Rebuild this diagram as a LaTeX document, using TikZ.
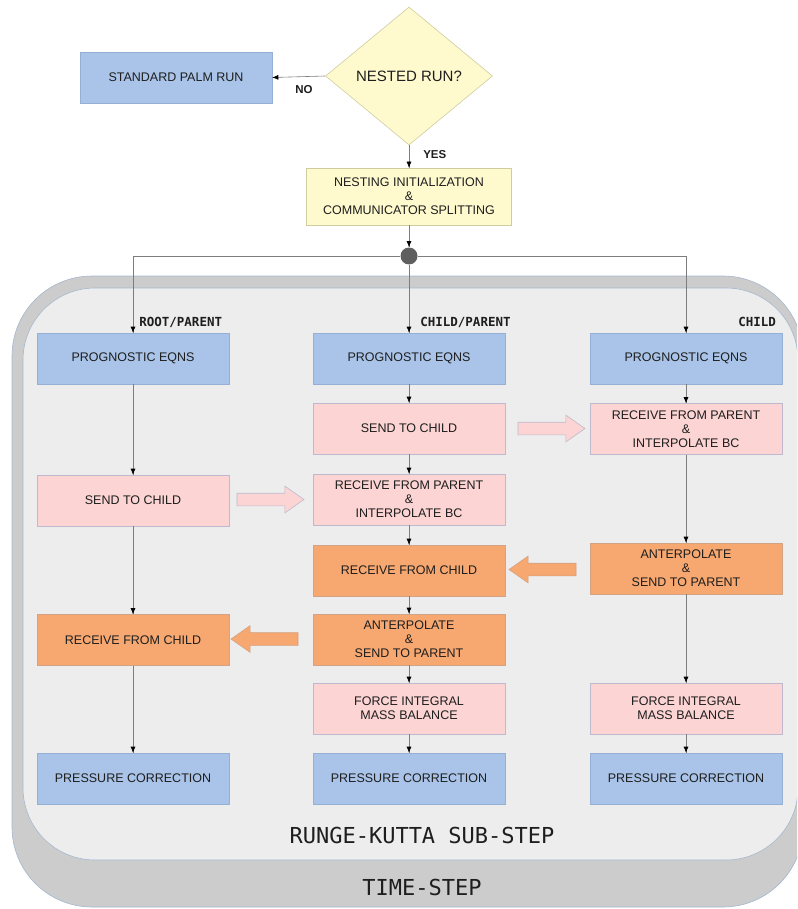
\documentclass[tikz,border=0pt]{standalone}
\usepackage{fontspec}
\setmainfont{Liberation Sans}
\newfontfamily\tagfont{DejaVu Sans Mono}
\definecolor{blufill}{RGB}{169,196,232}
\definecolor{bluline}{RGB}{150,175,212}
\definecolor{pnkfill}{RGB}{251,212,211}
\definecolor{pnkline}{RGB}{190,185,205}
\definecolor{orgfill}{RGB}{247,168,112}
\definecolor{orgline}{RGB}{212,162,132}
\definecolor{yelfill}{RGB}{255,250,206}
\definecolor{yelline}{RGB}{205,205,160}
\definecolor{outergray}{RGB}{204,204,204}
\definecolor{innergray}{RGB}{237,237,237}
\definecolor{edgeblue}{RGB}{165,183,206}
\definecolor{dotgray}{RGB}{95,95,95}
\definecolor{linegray}{RGB}{125,125,125}
\definecolor{ink}{RGB}{30,30,30}
\usetikzlibrary{arrows.meta,positioning,
                 shapes.geometric,shapes.arrows,
                 decorations.markings}
\tikzset{->/.style = {decoration={markings, mark=at position 1 with {\arrow[black]{Latex[length=6pt,width=5pt]}}}, postaction={decorate}}}
\tikzset{circ/.style = {fill=dotgray, circle, inner sep = 0, minimum size = 17pt}}
\tikzset{box/.style = {minimum width=192pt, minimum height=51pt, align=center, inner sep=2pt,
                       text=ink, font=\fontsize{12.5}{14}\selectfont}}
\tikzset{blu/.style = {box, fill=blufill, draw=bluline}}
\tikzset{pnk/.style = {box, fill=pnkfill, draw=pnkline}}
\tikzset{org/.style = {box, fill=orgfill, draw=orgline}}
\tikzset{yel/.style = {box, fill=yelfill, draw=yelline}}
\tikzset{lbl/.style = {inner sep=0, text=ink, font=\fontsize{11.5}{13}\selectfont\bfseries}}
\tikzset{tag/.style = {inner sep=0, text=ink, font=\tagfont\fontsize{12.5}{13}\selectfont\bfseries}}
\tikzset{big/.style = {inner sep=0, text=ink, font=\tagfont\fontsize{22}{24}\selectfont}}
\tikzset{fat/.style = {single arrow, minimum height=67pt, minimum width=24pt, inner xsep=0pt,
                       inner ysep=6pt, text height=0pt, text depth=0pt, single arrow tip angle=70}}
\tikzset{pa/.style = {fat, fill=pnkfill, draw=pnkline}}
\tikzset{oa/.style = {fat, fill=orgfill, draw=orgline, shape border rotate=180}}

\begin{document}
\begin{tikzpicture}[x=1pt, y=-1pt, line width=0.6pt]
    \useasboundingbox (0,0) rectangle (797,909);
    \clip (0,0) rectangle (797,909);
    % time-step and sub-step frames
    \draw[fill=outergray, draw=edgeblue, rounded corners=80pt] (12,276) rectangle (803,907);
    \draw[fill=innergray, draw=edgeblue, rounded corners=72pt] (23,288) rectangle (798,860);
    \node[big] (rk) at (422,835) {RUNGE-KUTTA SUB-STEP};
    \node[big] (ts) at (422,887) {TIME-STEP};

    % top of the chart
    \node[blu] (std) at (176,77.5) {STANDARD PALM RUN};
    \node[diamond, aspect=1.21, minimum width=167pt, minimum height=138pt, inner sep=0,
          fill=yelfill, draw=yelline, text=ink, font=\fontsize{15}{17}\selectfont] (nest) at (409,76) {NESTED RUN?};
    \node[yel, minimum width=205pt, minimum height=57pt] (init) at (409,196.5) {NESTING INITIALIZATION\\\&\\COMMUNICATOR SPLITTING};
    \node[circ] (split) at (409,256) {};

    % root/parent
    \node[blu] (lp) at (133,358.5) {PROGNOSTIC EQNS};
    \node[pnk] (ls) at (133,500.5) {SEND TO CHILD};
    \node[org] (lr) at (133,640) {RECEIVE FROM CHILD};
    \node[blu] (lc) at (133,778.5) {PRESSURE CORRECTION};
    % child/parent
    \node[blu] (mp) at (409,358.5) {PROGNOSTIC EQNS};
    \node[pnk] (ms) at (409,428.5) {SEND TO CHILD};
    \node[pnk] (mi) at (409,499.5) {RECEIVE FROM PARENT\\\&\\INTERPOLATE BC};
    \node[org] (mr) at (409,570.5) {RECEIVE FROM CHILD};
    \node[org] (ma) at (409,639.5) {ANTERPOLATE\\\&\\SEND TO PARENT};
    \node[pnk] (mf) at (409,708.5) {FORCE INTEGRAL\\MASS BALANCE};
    \node[blu] (mc) at (409,778.5) {PRESSURE CORRECTION};
    % child
    \node[blu] (rp) at (686,358.5) {PROGNOSTIC EQNS};
    \node[pnk] (ri) at (686,429) {RECEIVE FROM PARENT\\\&\\INTERPOLATE BC};
    \node[org] (ra) at (686,568.5) {ANTERPOLATE\\\&\\SEND TO PARENT};
    \node[pnk] (rf) at (686,708.5) {FORCE INTEGRAL\\MASS BALANCE};
    \node[blu] (rc) at (686,778.5) {PRESSURE CORRECTION};

    \node[tag, anchor=base west] (tl) at ([xshift=6pt,yshift=6pt]lp.north) {ROOT/PARENT};
    \node[tag, anchor=base west] (tm) at ([xshift=11pt,yshift=6pt]mp.north) {CHILD/PARENT};
    \node[tag, anchor=base east] (tr) at ([xshift=-6pt,yshift=6pt]rp.north east) {CHILD};

    % data exchange
    \node[pa] (p1) at (266,499.5) {};
    \node[pa] (p2) at (547,428.5) {};
    \node[oa] (o1) at (547,569.5) {};
    \node[oa] (o2) at (269,639) {};

    \begin{scope}[draw=linegray]
    \draw [->] (nest.west) -- (std.east) node [lbl, pos = 0.4, below = 9pt] {NO};
    \draw [->] (nest.south) -- (init.north) node [lbl, pos = 0.4, right = 14pt] {YES};
    \draw [->] (init.south) -- (split.north);
    \draw [->] (split.west) -| (lp.north);
    \draw [->] (split.east) -| (rp.north);
    \draw [->] (split.south) -- (mp.north);
    \draw [->] (lp) -- (ls);
    \draw [->] (ls) -- (lr);
    \draw [->] (lr) -- (lc);
    \draw [->] (mp) -- (ms);
    \draw [->] (ms) -- (mi);
    \draw [->] (mi) -- (mr);
    \draw [->] (mr) -- (ma);
    \draw [->] (ma) -- (mf);
    \draw [->] (mf) -- (mc);
    \draw [->] (rp) -- (ri);
    \draw [->] (ri) -- (ra);
    \draw [->] (ra) -- (rf);
    \draw [->] (rf) -- (rc);
    \end{scope}
  \end{tikzpicture}
\end{document}
